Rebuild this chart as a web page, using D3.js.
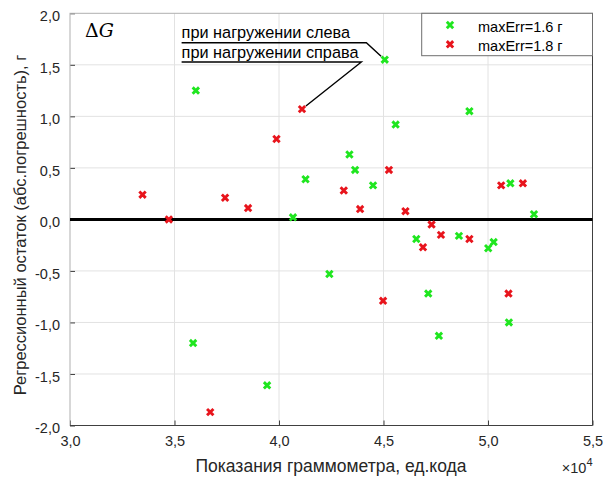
<!DOCTYPE html>
<html>
<head>
<meta charset="utf-8">
<script src="https://cdn.jsdelivr.net/npm/d3@7"></script>
<style>
  body { margin: 0; background: #fff; }
  svg { font-family: "Liberation Sans", Arial, sans-serif; }
</style>
</head>
<body>
<div id="vis"></div>
<script>
(function() {
  // readings in units of 1e4, residuals in grams
  var greenX = [4.506, 3.602, 4.558, 4.911, 4.337, 4.364, 4.127, 4.450, 5.107, 5.220, 4.067,
                4.657, 4.861, 5.001, 5.027, 4.714, 5.100, 4.765, 4.241, 3.589, 3.943];
  var greenY = [1.55, 1.25, 0.92, 1.05, 0.63, 0.48, 0.39, 0.33, 0.35, 0.05, 0.02,
                -0.19, -0.16, -0.28, -0.22, -0.72, -1.00, -1.13, -0.53, -1.20, -1.61];
  var redX = [4.110, 3.988, 3.347, 3.742, 3.852, 3.473, 4.310, 4.388, 4.526, 4.605,
              4.730, 4.775, 4.689, 4.911, 5.063, 5.167, 4.498, 5.098, 3.671];
  var redY = [1.07, 0.78, 0.24, 0.21, 0.11, 0.00, 0.28, 0.10, 0.48, 0.08,
              -0.05, -0.15, -0.27, -0.19, 0.33, 0.35, -0.79, -0.72, -1.87];
  var xTicks = [3.0, 3.5, 4.0, 4.5, 5.0, 5.5];
  var yTicks = [-2.0, -1.5, -1.0, -0.5, 0.0, 0.5, 1.0, 1.5, 2.0];
  var seriesNames = ['maxErr=1.6 г', 'maxErr=1.8 г'];
  var seriesColors = ['#1fe61f', '#e8141c'];

  var W = 614, H = 479;
  var L = 70, R = 592.5, T = 13.3, B = 425.5;

  var svg = d3.select('#vis').append('svg').attr('width', W).attr('height', H);
  var x = d3.scaleLinear().domain([3.0, 5.5]).range([L, R]);
  var y = d3.scaleLinear().domain([-2.0, 2.0]).range([B, T]);
  var fmt = function(v) { return d3.format('.1f')(v).replace('.', ',').replace('−', '-'); };

  // grid
  var grid = svg.append('g').attr('stroke', '#e2e2e2').attr('stroke-width', 1);
  grid.selectAll('.gx').data(xTicks.slice(1, -1)).enter().append('line')
    .attr('x1', function(d) { return x(d); }).attr('x2', function(d) { return x(d); })
    .attr('y1', T).attr('y2', B);
  grid.selectAll('.gy').data(yTicks.slice(1, -1)).enter().append('line')
    .attr('y1', function(d) { return y(d); }).attr('y2', function(d) { return y(d); })
    .attr('x1', L).attr('x2', R);

  // axes
  var xAxis = d3.axisBottom(x).tickValues(xTicks).tickFormat(fmt).tickSizeInner(-5).tickSizeOuter(0).tickPadding(10);
  var yAxis = d3.axisLeft(y).tickValues(yTicks).tickFormat(fmt).tickSizeInner(-5).tickSizeOuter(0).tickPadding(10);
  var gx = svg.append('g').attr('transform', 'translate(0,' + B + ')').call(xAxis);
  var gy = svg.append('g').attr('transform', 'translate(' + L + ',0)').call(yAxis);
  [gx, gy].forEach(function(g) {
    g.selectAll('text').attr('font-size', 14.5).attr('fill', '#262626').attr('font-family', '"Liberation Sans", Arial, sans-serif');
    g.selectAll('line').attr('stroke', '#404040');
    g.select('.domain').remove();
  });
  gy.selectAll('text').attr('dy', '0.5em');
  // box
  svg.append('rect').attr('x', L).attr('y', T).attr('width', R - L).attr('height', B - T)
    .attr('fill', 'none').attr('stroke', '#b0b0b0').attr('stroke-width', 1);
  svg.append('line').attr('x1', L).attr('x2', R).attr('y1', B).attr('y2', B).attr('stroke', '#404040');
  svg.append('line').attr('x1', R).attr('x2', R).attr('y1', T).attr('y2', B).attr('stroke', '#404040');

  // zero line
  svg.append('line').attr('x1', L).attr('x2', R).attr('y1', y(0)).attr('y2', y(0))
    .attr('stroke', '#000').attr('stroke-width', 3);

  // markers
  var cross = 'M-3.2,-3.2L3.2,3.2M-3.2,3.2L3.2,-3.2';
  function drawSeries(xs, ys, color) {
    svg.append('g').selectAll('path').data(d3.zip(xs, ys)).enter().append('path')
      .attr('d', cross)
      .attr('transform', function(d) { return 'translate(' + x(d[0]) + ',' + y(d[1]) + ')'; })
      .attr('stroke', color).attr('stroke-width', 2.9).attr('fill', 'none');
  }
  drawSeries(greenX, greenY, seriesColors[0]);
  drawSeries(redX, redY, seriesColors[1]);

  // annotations
  var ann = [
    { text: 'при нагружении слева', tx: 3.534, ty: 1.714, ex: 4.418, px: 4.506, py: 1.55 },
    { text: 'при нагружении справа', tx: 3.534, ty: 1.527, ex: 4.394, px: 4.110, py: 1.07 }
  ];
  ann.forEach(function(a) {
    svg.append('text').attr('x', x(a.tx)).attr('y', y(a.ty) - 4.5).attr('font-size', 16.3)
      .attr('fill', '#000').text(a.text);
    var ux = x(a.ex), uy = y(a.ty), qx = x(a.px), qy = y(a.py);
    var dx = qx - ux, dy = qy - uy, len = Math.sqrt(dx * dx + dy * dy), k = (len - 5) / len;
    svg.append('path')
      .attr('d', 'M' + x(a.tx) + ',' + uy + 'L' + ux + ',' + uy + 'L' + (ux + dx * k) + ',' + (uy + dy * k))
      .attr('fill', 'none').attr('stroke', '#000').attr('stroke-width', 1.4);
  });

  // delta G label
  var dg = svg.append('text').attr('x', 85).attr('y', 37).attr('font-size', 19)
    .attr('font-family', '"DejaVu Serif", "Liberation Serif", serif');
  dg.append('tspan').text('Δ');
  dg.append('tspan').attr('font-style', 'italic').text('G');

  // legend
  var lg = svg.append('g');
  lg.append('rect').attr('x', 421.7).attr('y', T).attr('width', R - 421.7).attr('height', 42.4)
    .attr('fill', '#fff').attr('stroke', '#6e6e6e').attr('stroke-width', 1);
  seriesNames.forEach(function(n, i) {
    var yy = 25 + i * 19.3;
    lg.append('path').attr('d', cross).attr('transform', 'translate(450,' + yy + ')')
      .attr('stroke', seriesColors[i]).attr('stroke-width', 2.9).attr('fill', 'none');
    lg.append('text').attr('x', 478).attr('y', yy + 6.5).attr('font-size', 14.5)
      .attr('fill', '#000').text(n);
  });

  // axis titles
  svg.append('text').attr('x', 331).attr('y', 472).attr('text-anchor', 'middle')
    .attr('font-size', 17.5).attr('fill', '#262626').text('Показания граммометра, ед.кода');
  svg.append('text').attr('transform', 'translate(26,225) rotate(-90)')
    .attr('text-anchor', 'middle').attr('font-size', 16.5).attr('fill', '#262626')
    .text('Регрессионный остаток (абс.погрешность), г');
  var ex = svg.append('text').attr('x', R).attr('y', 473).attr('text-anchor', 'end')
    .attr('font-size', 14.5).attr('fill', '#262626');
  ex.append('tspan').text('×10');
  ex.append('tspan').attr('dy', -7).attr('font-size', 11).text('4');
})();
</script>
</body>
</html>
